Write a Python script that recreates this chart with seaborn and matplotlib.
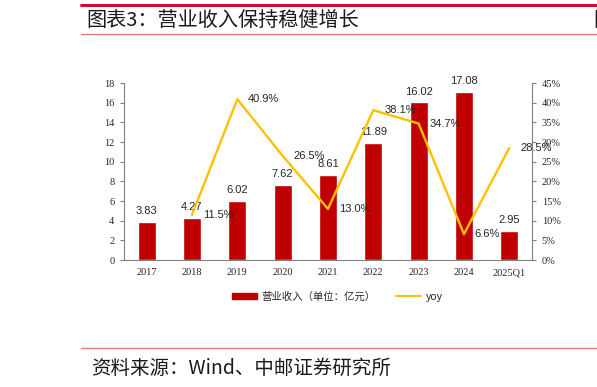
import matplotlib
matplotlib.use("Agg")
import matplotlib.pyplot as plt
from matplotlib.lines import Line2D
import numpy as np
import pandas as pd
import seaborn as sns

years = ["2017", "2018", "2019", "2020", "2021", "2022", "2023", "2024", "2025Q1"]
revenue = [3.83, 4.27, 6.02, 7.62, 8.61, 11.89, 16.02, 17.08, 2.95]
yoy = [np.nan, 11.5, 40.9, 26.5, 13.0, 38.1, 34.7, 6.6, 28.5]

df = pd.DataFrame({"year": years, "revenue": revenue, "yoy": yoy})

sns.set_theme(style="white")
cjk = ["Noto Sans CJK SC", "DejaVu Sans"]
plt.rcParams["font.family"] = cjk

BAR = "#C00000"
LINE = "#FFC000"
SPINE = "#808080"

fig = plt.figure(figsize=(5.97, 3.87), dpi=100)
ax = fig.add_axes([0.2077, 0.328, 0.6833, 0.4575])

sns.barplot(data=df, x="year", y="revenue", color=BAR, width=0.4,
            saturation=1, ax=ax)
ax.set_ylim(0, 18)
ax.set_yticks(range(0, 19, 2))
ax.set_xlim(-0.5, len(years) - 0.5)
ax.set_xlabel("")
ax.set_ylabel("")

for i, v in enumerate(revenue):
    ax.text(i, v + 0.6, f"{v:.2f}", ha="center", va="bottom",
            fontsize=8, family="Liberation Sans", color="#262626")

ax2 = ax.twinx()
sns.lineplot(data=df, x="year", y="yoy", color=LINE, linewidth=1.7, ax=ax2)
ax2.set_ylim(0, 45)
ax2.set_yticks(range(0, 46, 5))
ax2.set_yticklabels([f"{t}%" for t in range(0, 46, 5)])
ax2.set_ylabel("")
ax2.set_xlim(-0.5, len(years) - 0.5)

for i, v in enumerate(yoy):
    if np.isnan(v):
        continue
    ax2.text(i + 0.24, v, f"{v:.1f}%", ha="left", va="center",
             fontsize=8, family="Liberation Sans", color="#262626")

for a in (ax, ax2):
    for s in a.spines.values():
        s.set_color(SPINE)
        s.set_linewidth(0.8)
    a.spines["top"].set_visible(False)
    a.tick_params(axis="y", which="major", length=3, width=0.8, color=SPINE,
                  labelsize=7.5, pad=4)
    for lab in a.get_yticklabels():
        lab.set_family("Liberation Serif")
ax.spines["right"].set_visible(False)
ax2.spines["left"].set_visible(False)
ax2.spines["bottom"].set_visible(False)

ax.tick_params(axis="x", which="major", length=0, labelsize=7.5, pad=6)
for lab in ax.get_xticklabels():
    lab.set_family("Liberation Serif")
ax.set_xticks(np.arange(0.5, len(years) - 0.5), minor=True)
ax.tick_params(axis="x", which="minor", length=3, width=0.8, color=SPINE,
               direction="out")

handles = [plt.Rectangle((0, 0), 1, 1, color=BAR),
           Line2D([0], [0], color=LINE, linewidth=1.4)]
fig.legend(handles, ["营业收入（单位：亿元）", "yoy"], loc="center",
           bbox_to_anchor=(0.565, 0.234), ncol=2, frameon=False,
           fontsize=7.5, handlelength=2.4, handleheight=0.6,
           columnspacing=2.0, handletextpad=0.4)

# report frame: rules, title and source
fig.add_artist(Line2D([81 / 597, 1], [1 - 5 / 387] * 2, color="#C8102E",
                      linewidth=2.2))
fig.add_artist(Line2D([81 / 597, 1], [1 - 34 / 387] * 2, color="#E87C7C",
                      linewidth=1.0))
fig.add_artist(Line2D([81 / 597, 1], [1 - 348 / 387] * 2, color="#E87C7C",
                      linewidth=1.0))
fig.text(86 / 597, 1 - 20 / 387, "图表3：营业收入保持稳健增长", ha="left",
         va="center", fontsize=14.5, color="#1a1a1a")
fig.text(91 / 597, 1 - 368 / 387, "资料来源：Wind、中邮证券研究所", ha="left",
         va="center", fontsize=14, color="#1a1a1a")
# clipped first glyphs of the neighbouring column
fig.text(593 / 597, 1 - 20 / 387, "图", ha="left", va="center",
         fontsize=14.5, color="#1a1a1a")

fig.savefig("out.png", dpi=100)
